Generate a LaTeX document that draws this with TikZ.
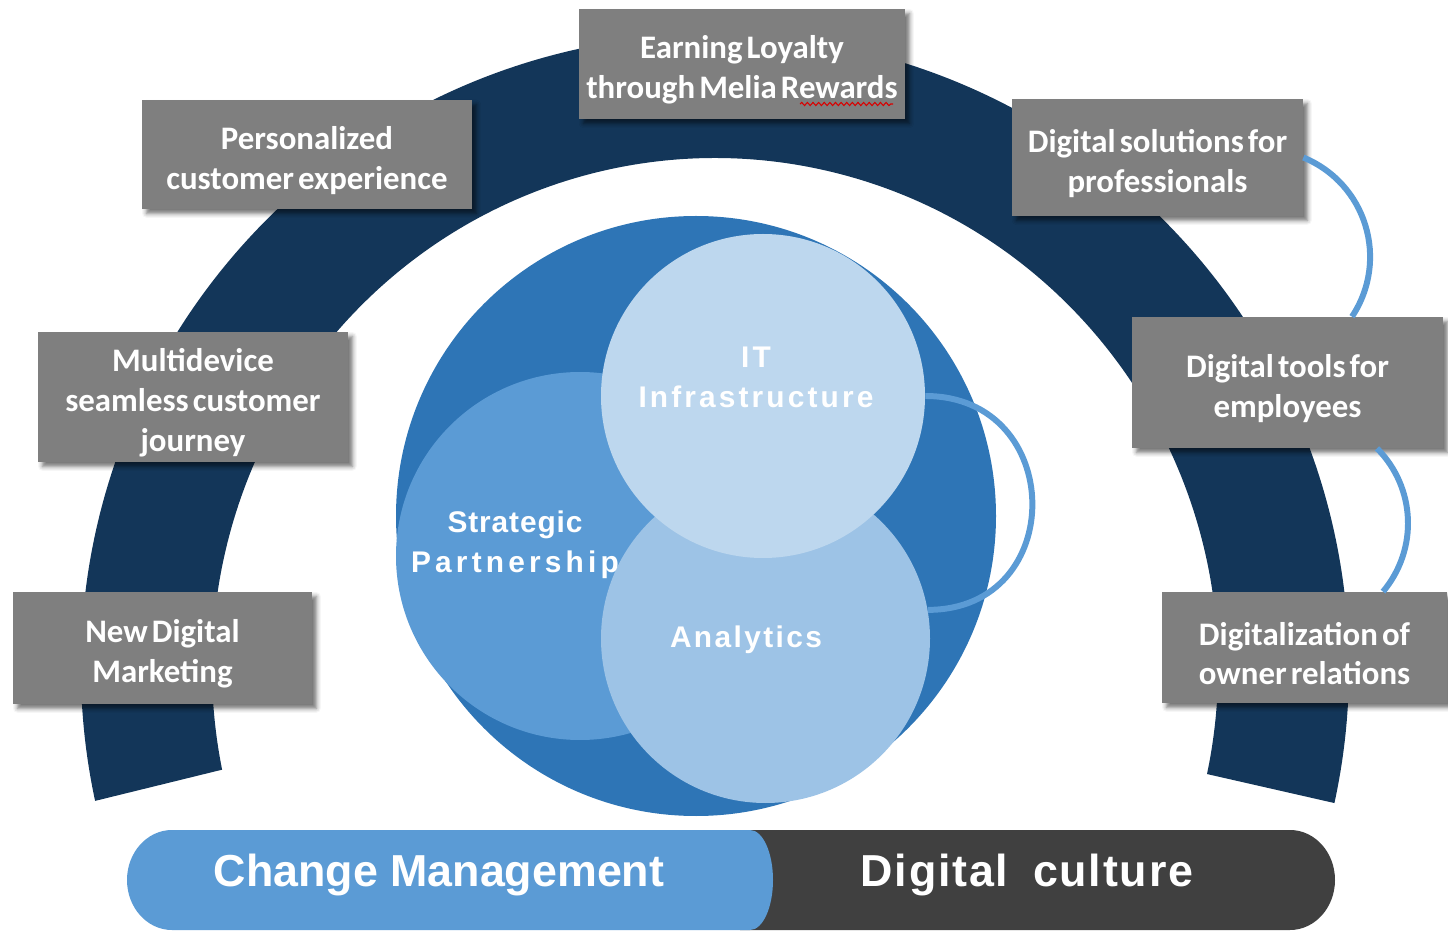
\documentclass[tikz,border=0pt]{standalone}
\usepackage{fontspec}
\usetikzlibrary{calc,shadows.blur,decorations.pathmorphing}

\newfontfamily\calb{Carlito}[WordSpace=0.55]
\newfontfamily\arb{Liberation Sans}

\definecolor{bandnavy}{HTML}{133659}
\definecolor{boxgray}{HTML}{7F7F7F}
\definecolor{coreblue}{HTML}{2E75B6}
\definecolor{midblue}{HTML}{5B9BD5}
\definecolor{paleblue}{HTML}{9DC3E6}
\definecolor{lightblue}{HTML}{BDD7EE}
\definecolor{capdark}{HTML}{404040}

% one drawing unit = 0.02cm
\newcommand{\pxu}{0.02cm}
% extra head room on the first text line of a pillar box
\newcommand{\headroom}{\rule{0pt}{20pt}}

\tikzset{
  pillar/.style={fill=boxgray, text=white, align=center, inner sep=0pt,
    font=\calb\bfseries\fontsize{18.7}{22.7}\selectfont,
    blur shadow={shadow xshift=2.5pt, shadow yshift=-2.5pt,
                 shadow blur radius=2.5pt, shadow opacity=55}},
  disc/.style={circle, inner sep=0pt, minimum size=#1*\pxu},
  disctext/.style={text=white, align=center, inner sep=0pt,
    font=\arb\bfseries\fontsize{17}{22.7}\selectfont},
  ring/.style={draw=midblue, line width=3.4pt},
  captext/.style={text=white, inner sep=0pt,
    font=\arb\bfseries\fontsize{25.5}{30}\selectfont},
}

\begin{document}
\begin{tikzpicture}[x=\pxu, y=-\pxu]
\useasboundingbox (0,0) rectangle (1448,932);

% ---------- background band ----------
\begin{scope}[shift={(715,668)}]
  \fill[bandnavy]
    (167.9:634) arc[start angle=167.9, end angle=372.3, radius=634]
    -- (372:503 and 510)
    arc[start angle=372, end angle=168.5, x radius=503, y radius=510]
    -- cycle;
\end{scope}

% ---------- central circles ----------
\node[disc=600, fill=coreblue] (core) at (696,516) {};
\node[disc=368, fill=midblue] (strat) at (580,556) {};
\node[disc=329, fill=paleblue] (ana) at (765.5,638.5) {};
\node[disc=324, fill=lightblue] (it) at (763,396) {};

\draw[ring] (it.east) .. controls +(141,0) and +(141,0) .. (ana.10.6);

\node[disctext] (itlabel) at (756,377)
  {\addfontfeatures{LetterSpace=10.5}IT\\\addfontfeatures{LetterSpace=10.5}Infrastructure};
\node[disctext] (splabel) at (515,545)
  {{\addfontfeatures{LetterSpace=3}Strategic}\\{\addfontfeatures{LetterSpace=14}Partnership}};
\node[disctext] (analabel) at (746,640)
  {\addfontfeatures{LetterSpace=8}Analytics};

% ---------- pillar boxes along the band ----------
\node[pillar, minimum width=326*\pxu, minimum height=110*\pxu] (earn) at (742,64)
  {\headroom Earning Loyalty\\through Melia Rewards};
\node[pillar, minimum width=330*\pxu, minimum height=109*\pxu] (pers) at (307,154.5)
  {\headroom Personalized\\customer experience};
\node[pillar, minimum width=291*\pxu, minimum height=117*\pxu] (sol) at (1157.5,157.5)
  {\headroom Digital solutions for\\professionals};
\node[pillar, minimum width=310*\pxu, minimum height=130*\pxu] (multi) at (193,397)
  {\headroom Multidevice\\seamless customer\\journey};
\node[pillar, minimum width=311*\pxu, minimum height=131*\pxu] (tools) at (1287.5,382.5)
  {\headroom Digital tools for\\employees};
\node[pillar, minimum width=299*\pxu, minimum height=112*\pxu] (newdm) at (162.5,648)
  {\headroom New Digital\\Marketing};
\node[pillar, minimum width=285*\pxu, minimum height=111*\pxu] (digz) at (1304.5,647.5)
  {\headroom Digitalization of\\owner relations};

% spell-check underline
\draw[red!85!black, line width=0.6pt, decorate,
      decoration={snake, amplitude=0.9pt, segment length=3.2pt}]
  (800,104) -- (893,104);

% ---------- ring connectors between the right-hand boxes ----------
\draw[ring] (sol.east) .. controls +(63,26) and +(37.6,-56.9)
  .. ($(tools.north)+(64.5,0)$);
\draw[ring] ($(tools.south)+(89.5,0)$) .. controls +(38.9,39.2) and +(35.5,-42.3)
  .. ($(digz.north)+(78.5,0)$);

% ---------- foundation bar ----------
\fill[capdark] (740,830) -- (1290,830)
  arc[start angle=-90, end angle=90, x radius=45, y radius=50]
  -- (740,930) -- cycle;
\fill[midblue] (750,830) -- (172,830)
  arc[start angle=270, end angle=90, x radius=45, y radius=50]
  -- (750,930)
  arc[start angle=90, end angle=-90, x radius=23, y radius=50]
  -- cycle;
\node[captext] (chg) at (439,875) {Change Management};
\node[captext] (dcul) at (1027,875)
  {\addfontfeatures{LetterSpace=4}Digital\hspace{0.55em}culture};

\end{tikzpicture}
\end{document}
